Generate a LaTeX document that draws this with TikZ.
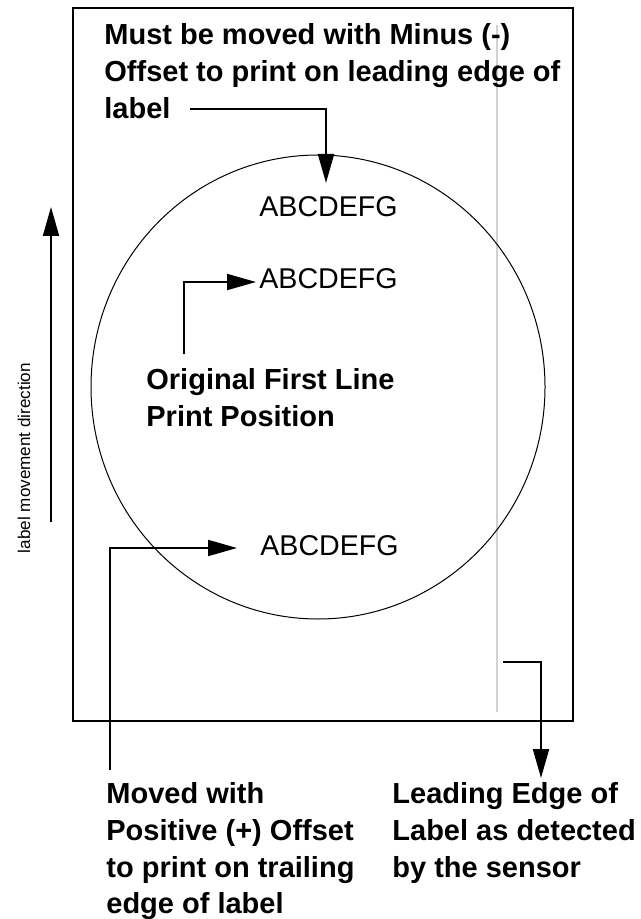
\documentclass[tikz,border=0pt]{standalone}
\usepackage{fontspec}
\setmainfont{Liberation Sans}
\usetikzlibrary{arrows.meta}
\tikzstyle{note} = [inner sep=0pt, anchor=north west, align=left,
    font=\fontsize{14.5}{18.4}\selectfont\bfseries]
\tikzstyle{sample} = [inner sep=0pt, anchor=base west,
    font=\fontsize{14.3}{17}\selectfont]
\tikzstyle{line} = [draw, line width=1pt, -{Triangle[length=14.5pt,width=8pt]}]

\begin{document}
\begin{tikzpicture}[x=0.5pt, y=-0.5pt]
	\useasboundingbox (0,0) rectangle (641,919);

		\draw [line width=1.2pt] (73,8) rectangle (573,721);
		\draw [gray!35, line width=0.6pt] (497,25) -- (497,712);
		\draw [line width=0.5pt] (318,387) ellipse [x radius=227, y radius=232];

		\node [rotate=90, inner sep=0pt, font=\fontsize{8.55}{10}\selectfont] (dirtext) at (24,458) {label movement direction};

		\node [note] (minusnote) at (104,23) {Must be moved with Minus (-)\\Offset to print on leading edge of\\label};
		\node [sample] (printA) at (259,217) {ABCDEFG};
		\node [sample] (printB) at (259,288) {ABCDEFG};
		\node [note] (firstline) at (146,368) {Original First Line\\Print Position};
		\node [sample] (printC) at (260,555) {ABCDEFG};
		\node [note] (plusnote) at (106,782) {Moved with\\Positive (+) Offset\\to print on trailing\\edge of label};
		\node [note] (sensornote) at (392,782) {Leading Edge of\\Label as detected\\by the sensor};

		\coordinate (dirtail) at (51,522);
		\coordinate (dirhead) at (51,207);
		\coordinate (minusstart) at (190,109);
		\coordinate (minustip) at (326,183);
		\coordinate (firstup) at (184,354);
		\coordinate (firsttip) at (256,282);
		\coordinate (plusup) at (110,770);
		\coordinate (plustip) at (237,548);
		\coordinate (sensorstart) at (503,662);
		\coordinate (sensortip) at (541,778);

		\path [line] (dirtail) -- (dirhead);
		\path [line] (minusstart) -| (minustip);
		\path [line] (firstup) |- (firsttip);
		\path [line] (plusup) |- (plustip);
		\path [line] (sensorstart) -| (sensortip);
	\end{tikzpicture}
\end{document}
